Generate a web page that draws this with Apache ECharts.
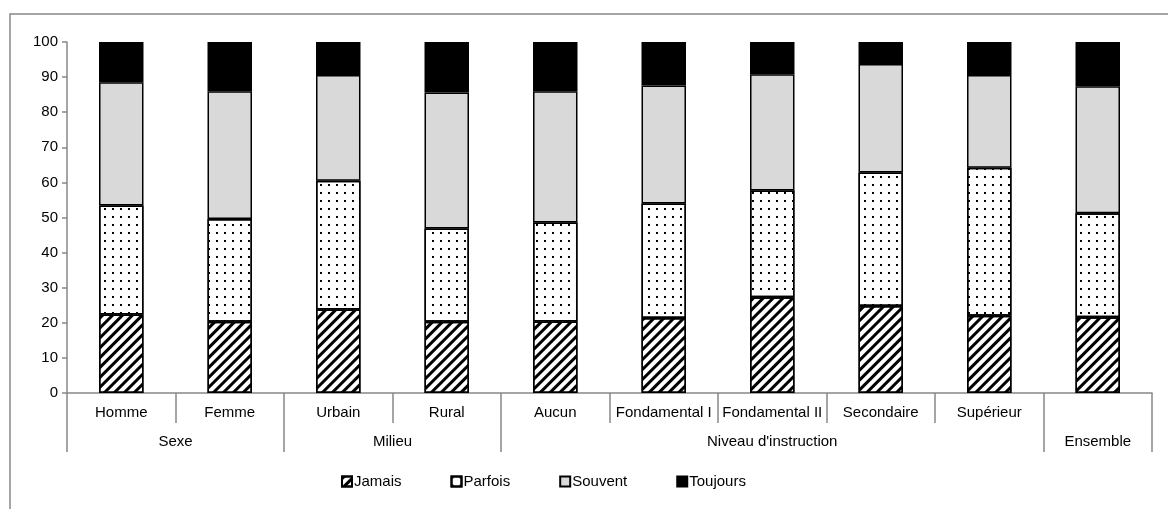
<!DOCTYPE html>
<html>
<head>
<meta charset="utf-8">
<script src="https://cdn.jsdelivr.net/npm/echarts@6/dist/echarts.min.js"></script>
<style>
html,body{margin:0;padding:0;background:#fff;}
#chart{width:1168px;height:509px;}
</style>
</head>
<body>
<div id="chart"></div>
<script>
// ---- Data ----
var categories = ['Homme', 'Femme', 'Urbain', 'Rural', 'Aucun', 'Fondamental I', 'Fondamental II', 'Secondaire', 'Supérieur', 'Ensemble'];
var groupLabels = ['Sexe', 'Milieu', "Niveau d'instruction", 'Ensemble'];
var groupSizes = [2, 2, 5, 1];
var seriesNames = ['Jamais', 'Parfois', 'Souvent', 'Toujours'];
var jamais   = [22.4, 20.3, 23.8, 20.3, 20.4, 21.4, 27.3, 24.8, 22.0, 21.6];
var parfois  = [31.0, 29.3, 36.7, 26.6, 28.2, 32.6, 30.4, 38.0, 42.2, 29.6];
var souvent  = [35.1, 36.4, 30.1, 38.7, 37.4, 33.6, 33.1, 30.9, 26.4, 36.2];
var toujours = [11.5, 14.0,  9.4, 14.4, 14.0, 12.4,  9.2,  6.3,  9.4, 12.6];
var yTicks = [0, 10, 20, 30, 40, 50, 60, 70, 80, 90, 100];

// ---- Build half-step group axis (21 points from 0 to 10 by 0.5) ----
var halfData = [];
var groupLabelAt = {};
var groupBoundAt = {0: true};
var hiddenCat = {};
var pos = 0;
for (var g = 0; g < groupSizes.length; g++) {
  var center = pos + groupSizes[g] / 2;
  groupLabelAt[Math.round(center * 2)] = groupLabels[g];
  if (groupSizes[g] === 1) hiddenCat[pos] = true;
  pos += groupSizes[g];
  groupBoundAt[pos * 2] = true;
}
for (var i = 0; i <= categories.length * 2; i++) {
  halfData.push(groupLabelAt[i] || '');
}

var axisGray = '#888888';
var font = 'Liberation Sans, Arial, sans-serif';

var styles = [
  {color: '#ffffff', decal: {symbol: 'rect', symbolSize: 1, color: '#000', dashArrayX: [1, 0], dashArrayY: [3, 4], rotation: -Math.PI / 4}},
  {color: '#ffffff', decal: {symbol: 'rect', symbolSize: 1, color: '#000', dashArrayX: [1.5, 5.5], dashArrayY: [1.5, 5.5], rotation: 0}},
  {color: '#d9d9d9'},
  {color: '#000000'}
];
var values = [jamais, parfois, souvent, toujours];

var series = seriesNames.map(function (name, k) {
  var it = {color: styles[k].color, borderColor: '#000', borderWidth: 1.5};
  if (styles[k].decal) it.decal = styles[k].decal;
  return {
    name: name,
    type: 'bar',
    stack: 'total',
    xAxisIndex: 0,
    barWidth: '41%',
    itemStyle: it,
    emphasis: {disabled: true},
    data: values[k]
  };
});

var chart = echarts.init(document.getElementById('chart'), null, {renderer: 'canvas'});
chart.setOption({
  animation: false,
  backgroundColor: '#fff',
  textStyle: {fontFamily: font},
  graphic: [{
    type: 'rect', silent: true,
    shape: {x: 10, y: 14, width: 1300, height: 700},
    style: {fill: 'none', stroke: axisGray, lineWidth: 1.5}
  }],
  grid: {left: 67, right: 16, top: 42, bottom: 116, containLabel: false},
  legend: {
    left: 341, top: 474, padding: 0,
    icon: 'rect',
    itemWidth: 10, itemHeight: 10, itemGap: 49,
    textStyle: {fontSize: 15, color: '#000', fontFamily: font, padding: [0, 0, 0, -3]},
    data: seriesNames
  },
  xAxis: [{
    type: 'category',
    data: categories,
    position: 'bottom',
    axisLine: {show: true, lineStyle: {color: axisGray, width: 1.5}},
    axisTick: {show: true, interval: 0, length: 30, lineStyle: {color: axisGray, width: 1.5}},
    axisLabel: {
      interval: 0, margin: 12, fontSize: 15, color: '#000', fontFamily: font,
      formatter: function (v, idx) { return hiddenCat[idx] ? '' : v; }
    },
    splitLine: {show: false}
  }, {
    type: 'category',
    data: halfData,
    boundaryGap: false,
    position: 'bottom',
    gridIndex: 0,
    axisLine: {show: false},
    axisTick: {show: true, length: 59, interval: function (idx) { return !!groupBoundAt[idx]; }, lineStyle: {color: axisGray, width: 1.5}},
    axisLabel: {interval: function (idx) { return !!groupLabelAt[idx]; }, margin: 41, fontSize: 15, color: '#000', fontFamily: font},
    splitLine: {show: false}
  }],
  yAxis: {
    type: 'value',
    min: yTicks[0], max: yTicks[yTicks.length - 1], interval: 10,
    axisLine: {show: true, lineStyle: {color: axisGray, width: 1.5}},
    axisTick: {show: true, length: 5, lineStyle: {color: axisGray, width: 1.5}},
    axisLabel: {margin: 9, fontSize: 15, color: '#000', fontFamily: font},
    splitLine: {show: false}
  },
  series: series
});
</script>
</body>
</html>
